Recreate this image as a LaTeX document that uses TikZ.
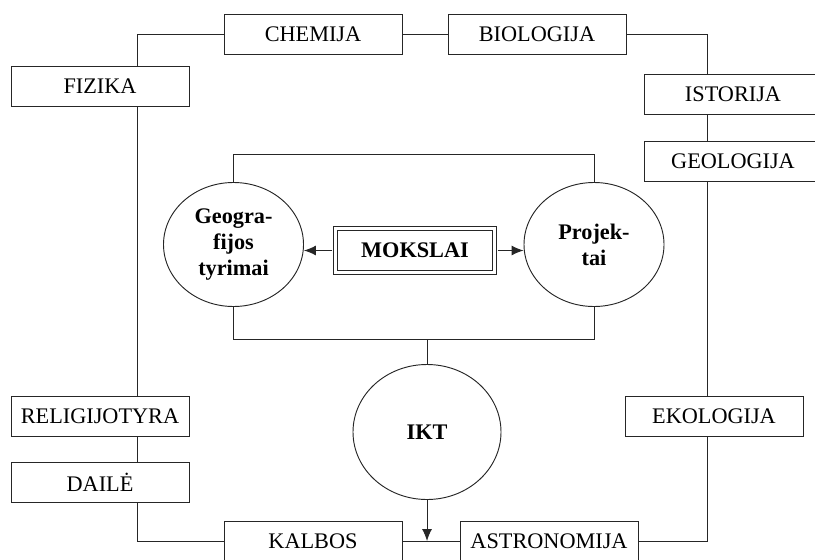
\documentclass[tikz,border=0pt]{standalone}
\usepackage{fontspec}
\setmainfont{Liberation Serif}
\usetikzlibrary{positioning, arrows.meta, shapes.geometric}
\tikzset {
    x=0.03cm,
    y=-0.03cm,
    >={Latex[length=3.6mm, width=3mm]},
    subject/.style={draw, rectangle, inner sep=0pt,
        minimum width=5.34cm, minimum height=1.2cm,
        font=\fontsize{19}{22}\selectfont},
    topic/.style={draw, ellipse, inner sep=0pt, align=center,
        minimum width=4.2cm, minimum height=3.72cm,
        font=\fontsize{19}{22}\selectfont\bfseries}
}
\begin{document}
\begin{tikzpicture}[line width=0.8pt, draw=black!85]
    \useasboundingbox (0,0) rectangle (815,559);
    \coordinate (ltrunk) at (137,0);
    \coordinate (rtrunk) at (707,0);
    \coordinate (hub) at (427,339);

    % outer ring of subjects
    \node[subject] (chemija) at (313,34) {CHEMIJA};
    \node[subject] (biologija) at (537,34) {BIOLOGIJA};
    \node[subject] (fizika) at (100,86) {FIZIKA};
    \node[subject] (istorija) at (733,94.5) {ISTORIJA};
    \node[subject] (geologija) at (733,161.5) {GEOLOGIJA};
    \node[subject] (religijotyra) at (100,416) {RELIGIJOTYRA};
    \node[subject] (daile) at (100,482.5) {DAILĖ};
    \node[subject] (ekologija) at (714,416) {EKOLOGIJA};
    \node[subject] (kalbos) at (313,541) {KALBOS};
    \node[subject] (astronomija) at (549,541) {ASTRONOMIJA};

    % centre
    \node[topic] (geo) at (233.5,244.5) {Geogra-\\fijos\\tyrimai};
    \node[topic] (proj) at (594,244.5) {Projek-\\tai};
    \node[topic, minimum width=4.44cm, minimum height=4.05cm] (ikt) at (427,432) {IKT};
    \node[draw, double=white, double distance=2.6pt, line width=0.7pt, inner sep=0pt,
        minimum width=4.75cm, minimum height=1.32cm,
        font=\fontsize{19}{22}\selectfont\bfseries] (mokslai) at (415,250.5) {MOKSLAI};

    \draw (chemija.west) -| (fizika.north -| ltrunk);
    \draw (fizika.south -| ltrunk) -- (religijotyra.north -| ltrunk);
    \draw (religijotyra.south -| ltrunk) -- (daile.north -| ltrunk);
    \draw (daile.south -| ltrunk) |- (kalbos.west);
    \draw (kalbos.east) -- (astronomija.west);
    \draw (astronomija.east) -| (ekologija.south -| rtrunk);
    \draw (ekologija.north -| rtrunk) -- (geologija.south -| rtrunk);
    \draw (geologija.north -| rtrunk) -- (istorija.south -| rtrunk);
    \draw (istorija.north -| rtrunk) |- (biologija.east);
    \draw (chemija.east) -- (biologija.west);

    \draw (geo.north) -- ++(0,-28) -| (proj.north);
    \draw (geo.south) -- ++(0,32) -| (proj.south);
    \draw (hub) -- (ikt.north);
    \draw[->] ([xshift=-2.5pt]mokslai.west) -- (mokslai.west -| geo.east);
    \draw[->] ([xshift=2.5pt]mokslai.east) -- (mokslai.east -| proj.west);
    \draw[->] (ikt.south) -- (ikt.south |- kalbos.east);
\end{tikzpicture}
\end{document}
